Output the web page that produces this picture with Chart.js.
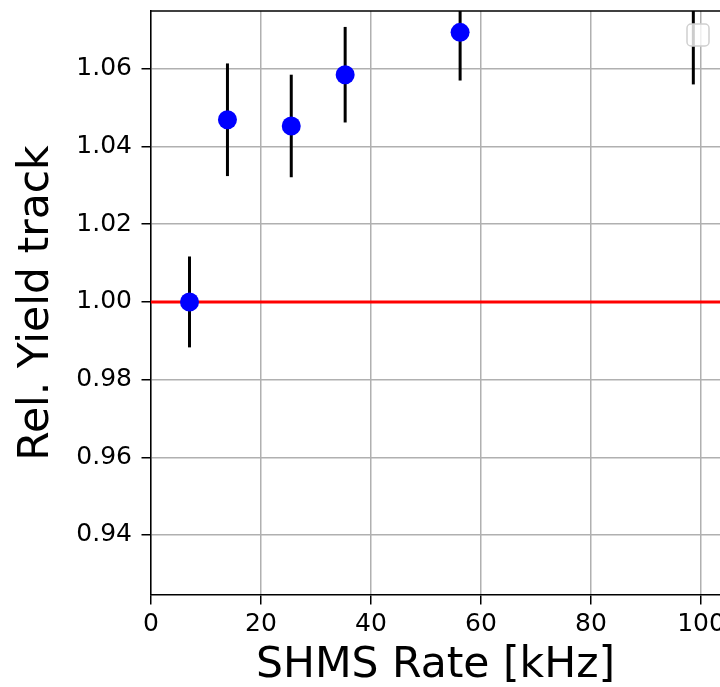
<!DOCTYPE html>
<html>
<head>
<meta charset="utf-8">
<script src="https://cdn.jsdelivr.net/npm/chart.js@4/dist/chart.umd.min.js"></script>
<style>
	html, body { margin: 0; padding: 0; background: #fff; overflow: hidden; }
	#wrap { width: 720px; height: 687px; overflow: hidden; }
</style>
</head>
<body>
<div id="wrap"><canvas id="c" width="740" height="687"></canvas></div>
<script>
	// Values
	const RATE      = [7.0, 13.9, 25.5, 35.3, 56.2, 98.6];        // kHz
	const YIELD     = [1.000, 1.0469, 1.0453, 1.0585, 1.0694, 1.079];
	const YIELD_ERR = [0.0117, 0.0145, 0.0132, 0.0123, 0.0124, 0.023];
	const REF_LINE  = 1.0;
	const X_TICKS   = [0, 20, 40, 60, 80, 100];
	const Y_TICKS   = [0.94, 0.96, 0.98, 1.00, 1.02, 1.04, 1.06];
	const X_RANGE   = [0, 103.45];
	const Y_RANGE   = [0.92455, 1.0749];

	Chart.defaults.font.family = "'DejaVu Sans', sans-serif";
	Chart.defaults.color = '#000';

	// error bars, empty legend frame and top spine
	const extras = {
		id: 'extras',
		beforeDatasetDraw(chart, args) {
			if (args.index !== 1) return;
			const { ctx, chartArea: a, scales: { x, y } } = chart;
			ctx.save();
			ctx.beginPath();
			ctx.rect(a.left, a.top, a.right - a.left, a.bottom - a.top);
			ctx.clip();
			ctx.strokeStyle = '#000';
			ctx.lineWidth = 3;
			RATE.forEach((r, i) => {
				const px = x.getPixelForValue(r);
				ctx.beginPath();
				ctx.moveTo(px, y.getPixelForValue(YIELD[i] - YIELD_ERR[i]));
				ctx.lineTo(px, y.getPixelForValue(YIELD[i] + YIELD_ERR[i]));
				ctx.stroke();
			});
			ctx.restore();
		},
		afterDatasetsDraw(chart) {
			const { ctx, chartArea: a } = chart;
			ctx.save();
			// empty legend box
			const lx = a.right - 33, ly = a.top + 13;
			ctx.beginPath();
			ctx.roundRect(lx, ly, 22, 22, 4);
			ctx.fillStyle = 'rgba(255,255,255,0.8)';
			ctx.fill();
			ctx.strokeStyle = '#d0d0d0';
			ctx.lineWidth = 1.5;
			ctx.stroke();
			// top spine
			ctx.beginPath();
			ctx.moveTo(a.left - 0.75, a.top);
			ctx.lineTo(a.right + 20, a.top);
			ctx.strokeStyle = '#000';
			ctx.lineWidth = 1.5;
			ctx.stroke();
			ctx.restore();
		}
	};

	const gridOpts = {
		color: '#b0b0b0',
		lineWidth: 1.5,
		tickColor: '#000',
		tickWidth: 1.5,
		tickLength: 9.5
	};

	new Chart(document.getElementById('c'), {
		data: {
			datasets: [
				{
					type: 'line',
					data: [{ x: X_RANGE[0], y: REF_LINE }, { x: X_RANGE[1], y: REF_LINE }],
					borderColor: 'red',
					borderWidth: 3,
					pointRadius: 0,
					clip: 0,
					order: 2
				},
				{
					type: 'scatter',
					data: RATE.map((r, i) => ({ x: r, y: YIELD[i] })),
					backgroundColor: 'blue',
					borderColor: 'blue',
					borderWidth: 0,
					pointRadius: 9.5,
					clip: 0,
					order: 1
				}
			]
		},
		options: {
			responsive: false,
			devicePixelRatio: 1,
			animation: false,
			layout: { padding: { left: 0, top: 11, right: 20, bottom: 0 } },
			plugins: { legend: { display: false }, tooltip: { enabled: false } },
			scales: {
				x: {
					type: 'linear',
					min: X_RANGE[0],
					max: X_RANGE[1],
					afterBuildTicks: s => { s.ticks = X_TICKS.map(v => ({ value: v })); },
					afterFit: s => { s.height = 92; s.paddingLeft = 0; s.paddingRight = 0; },
					grid: gridOpts,
					border: { color: '#000', width: 1.5 },
					ticks: {
						font: { size: 25, lineHeight: 1.2 },
						padding: 4.5,
						autoSkip: false,
						maxRotation: 0,
						callback: v => String(v)
					},
					title: {
						display: true,
						text: 'SHMS Rate [kHz]',
						font: { size: 42.5, lineHeight: 1 },
						padding: { top: 0, bottom: 0 }
					}
				},
				y: {
					type: 'linear',
					min: Y_RANGE[0],
					max: Y_RANGE[1],
					afterBuildTicks: s => { s.ticks = Y_TICKS.map(v => ({ value: v })); },
					afterFit: s => { s.width = 151; s.paddingTop = 0; s.paddingBottom = 0; },
					grid: gridOpts,
					border: { color: '#000', width: 1.5 },
					ticks: {
						font: { size: 25, lineHeight: 1.2 },
						padding: 9.5,
						autoSkip: false,
						callback: v => Number(v).toFixed(2)
					},
					title: {
						display: true,
						text: 'Rel. Yield track',
						font: { size: 42.5, lineHeight: 1 },
						padding: { top: 16, bottom: 0 }
					}
				}
			}
		},
		plugins: [extras]
	});
</script>
</body>
</html>
